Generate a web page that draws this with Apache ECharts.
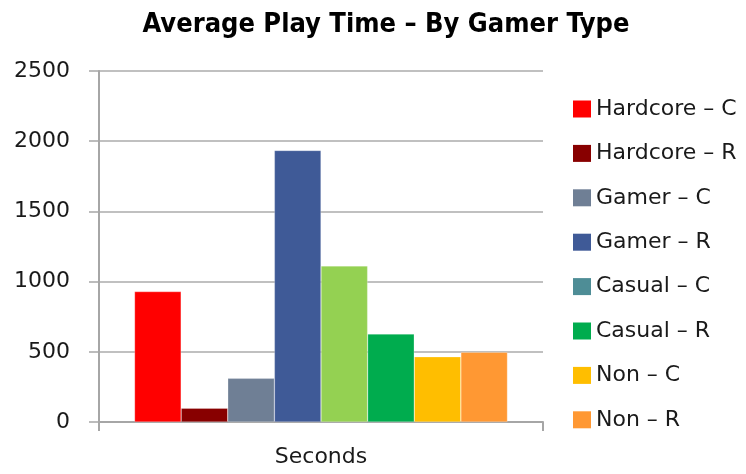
<!DOCTYPE html>
<html>
<head>
<meta charset="utf-8">
<script src="https://cdn.jsdelivr.net/npm/echarts@6/dist/echarts.min.js"></script>
<style>
  html, body { margin: 0; padding: 0; background: #fff; }
  #chart { width: 746px; height: 474px; }
</style>
</head>
<body>
<div id="chart"></div>
<script>
// Average play time (seconds) per gamer type, C and R groups
const categories = ['Seconds'];
const seriesNames = ['Hardcore – C', 'Hardcore – R', 'Gamer – C', 'Gamer – R',
                     'Casual – C', 'Casual – R', 'Non – C', 'Non – R'];
const seriesValues = [929, 98, 311, 1934, 1112, 627, 465, 497];
const legendColors = ['#FF0000', '#880000', '#6F7F95', '#3F5A97',
                      '#4E8D96', '#00AC4E', '#FFBE00', '#FF9833'];
const barColors = ['#FF0000', '#880000', '#6F7F95', '#3F5A97',
                   '#94D152', '#00AC4E', '#FFBE00', '#FF9833'];
const yTicks = [0, 500, 1000, 1500, 2000, 2500];

const font = 'DejaVu Sans';
const chart = echarts.init(document.getElementById('chart'), null, { renderer: 'canvas' });

const series = seriesNames.map((name, i) => ({
  name: name,
  type: 'bar',
  barGap: '0%',
  barCategoryGap: '16%',
  itemStyle: { color: legendColors[i] },
  data: categories.map(() => ({
    value: seriesValues[i],
    itemStyle: { color: barColors[i], borderColor: 'rgba(255,255,255,0.5)', borderWidth: 0.5 }
  }))
}));

chart.setOption({
  animation: false,
  backgroundColor: '#ffffff',
  title: {
    text: 'Average Play Time – By Gamer Type',
    left: 381,
    textAlign: 'center',
    top: 6,
    textStyle: {
      fontFamily: 'DejaVu Sans Condensed',
      fontWeight: 'bold',
      fontSize: 27,
      color: '#000'
    }
  },
  legend: {
    orient: 'vertical',
    left: 568,
    top: 93,
    itemWidth: 18,
    itemHeight: 17,
    itemGap: 22.4,
    icon: 'rect',
    data: seriesNames,
    textStyle: { fontFamily: font, fontSize: 22, color: '#1a1a1a', lineHeight: 22 }
  },
  grid: { left: 99, right: 203, top: 71, bottom: 52, containLabel: false },
  xAxis: {
    type: 'category',
    data: categories,
    axisLine: { lineStyle: { color: '#a6a6a6', width: 2 } },
    axisTick: { show: true, length: 9, lineStyle: { color: '#a6a6a6', width: 2 } },
    axisLabel: { fontFamily: font, fontSize: 22, color: '#1a1a1a', margin: 24 }
  },
  yAxis: {
    type: 'value',
    min: yTicks[0],
    max: yTicks[yTicks.length - 1],
    interval: 500,
    axisLine: { show: true, lineStyle: { color: '#a6a6a6', width: 2 } },
    axisTick: { show: true, length: 10, lineStyle: { color: '#a6a6a6', width: 1.5 } },
    splitLine: { lineStyle: { color: '#ababab', width: 1.5 } },
    axisLabel: {
      fontFamily: font, fontSize: 22, color: '#1a1a1a', margin: 29,
      formatter: (v) => String(v)
    }
  },
  series: series
});
</script>
</body>
</html>
